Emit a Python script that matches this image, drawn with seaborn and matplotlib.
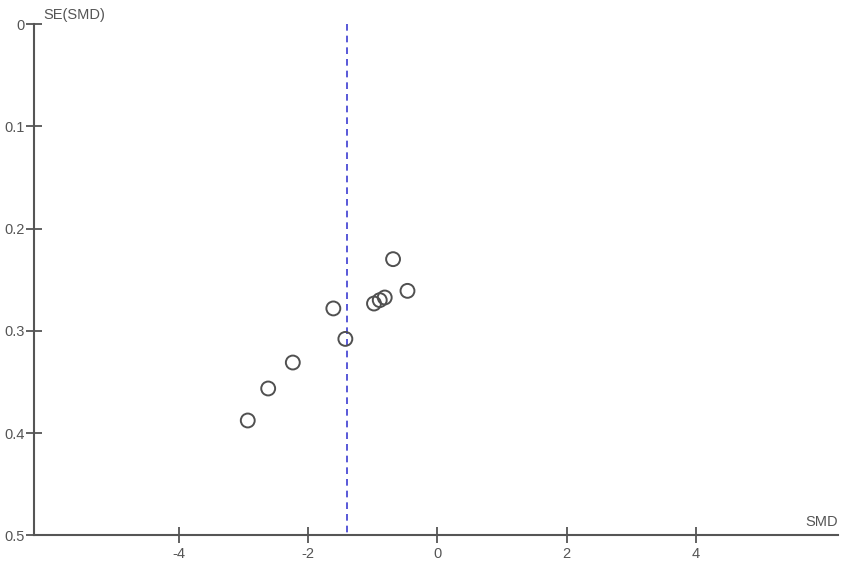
import matplotlib
matplotlib.use("Agg")
import matplotlib.pyplot as plt
import seaborn as sns
import pandas as pd

smd = [-0.685, -0.462, -0.814, -0.891, -0.98, -1.609, -1.423, -2.236, -2.617, -2.933]
se = [0.2298, 0.2608, 0.2673, 0.2699, 0.2732, 0.2780, 0.3078, 0.3309, 0.3563, 0.3876]
pooled_smd = -1.40
x_ticks = [-4, -2, 0, 2, 4]
y_ticks = [0, 0.1, 0.2, 0.3, 0.4, 0.5]
y_tick_labels = ["0", "0.1", "0.2", "0.3", "0.4", "0.5"]

df = pd.DataFrame({"SMD": smd, "SE": se})

sns.set_style("white")
plt.rcParams["font.family"] = ["Liberation Sans", "DejaVu Sans"]

fig = plt.figure(figsize=(8.5, 5.63), dpi=100)
ax = fig.add_axes([0.04, 0.049, 0.946, 0.908])

gray = "#555555"
ax.plot([pooled_smd, pooled_smd], [0, 0.5], linestyle=(0, (4, 3)), color="#3c3cd2", linewidth=1.2, zorder=1)
sns.scatterplot(data=df, x="SMD", y="SE", ax=ax, marker="o", s=100,
                facecolor="none", edgecolor="#505050", linewidth=1.4, zorder=3)

ax.set_xlim(-6.24, 6.2)
ax.set_ylim(0.5, 0)
ax.set_xticks(x_ticks)
ax.set_xticklabels([str(t) for t in x_ticks])
ax.set_yticks(y_ticks)
ax.set_yticklabels(y_tick_labels)

for side in ["top", "right"]:
    ax.spines[side].set_visible(False)
for side in ["left", "bottom"]:
    ax.spines[side].set_color(gray)
    ax.spines[side].set_linewidth(1.5)

ax.tick_params(axis="both", direction="inout", length=11, width=1.3, color=gray,
               labelcolor=gray, labelsize=10.5, bottom=True, left=True)
ax.tick_params(axis="x", pad=3)
ax.tick_params(axis="y", pad=1)

ax.set_xlabel("")
ax.set_ylabel("")
ax.text(0.012, 1.018, "SE(SMD)", transform=ax.transAxes, ha="left", va="center",
        fontsize=10.5, color=gray)
ax.text(1.0, 0.012, "SMD", transform=ax.transAxes, ha="right", va="bottom",
        fontsize=10.5, color=gray)

fig.savefig("out.png", dpi=100)
